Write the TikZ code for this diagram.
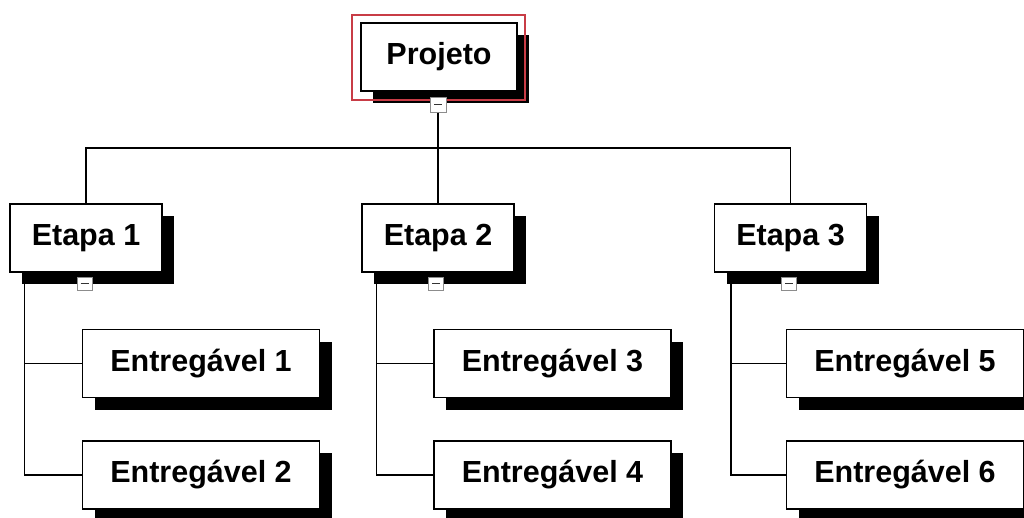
\documentclass[tikz,border=0pt]{standalone}
\usepackage{fontspec}
\setmainfont{Liberation Sans}
\usetikzlibrary{shadows}
\definecolor{framered}{RGB}{200,60,70}
\begin{document}
\begin{tikzpicture}[x=1pt,y=-1pt,
  wbsbox/.style={draw=black,line width=1.4pt,fill=white,inner sep=0pt,
    font=\fontsize{30.5}{36}\selectfont\bfseries,
    drop shadow={shadow xshift=12pt,shadow yshift=-12pt,fill=black,opacity=1}},
  topbox/.style={wbsbox,minimum width=156pt,minimum height=68pt},
  stagebox/.style={wbsbox,minimum width=152pt,minimum height=68pt},
  delbox/.style={wbsbox,minimum width=237pt,minimum height=68pt},
  collapse/.style={draw=black!45,fill=white,line width=1pt,inner sep=0pt,
    minimum width=15pt,minimum height=13pt,
    path picture={\draw[black!80,line width=1.7pt]
      ([xshift=-4pt]path picture bounding box.center) --
      ([xshift=4pt]path picture bounding box.center);}},
  conn/.style={draw=black,line width=1.4pt}]
\useasboundingbox (0,0) rectangle (1024,517);
\fill[white] (0,0) rectangle (1024,517);

% top
\node[topbox] (p) at (439,57) {Projeto};
\draw[framered,line width=1.1pt] (352,15) rectangle (525,100);
\node[collapse,minimum width=16pt,minimum height=15pt] (pc) at (438,104.5) {};

% stages
\node[stagebox] (e1) at (86,238) {Etapa 1};
\node[stagebox] (e2) at (438,238) {Etapa 2};
\node[stagebox] (e3) at (790.5,238) {Etapa 3};
\node[collapse] (c1) at (84.5,283.5) {};
\node[collapse] (c2) at (436,283.5) {};
\node[collapse] (c3) at (789,283.5) {};

% deliverables
\node[delbox] (d1) at (201,363.5) {Entregável 1};
\node[delbox] (d2) at (201,475) {Entregável 2};
\node[delbox] (d3) at (552.5,363.5) {Entregável 3};
\node[delbox] (d4) at (552.5,475) {Entregável 4};
\node[delbox] (d5) at (905,363.5) {Entregável 5};
\node[delbox] (d6) at (905,475) {Entregável 6};

% connectors
\coordinate (bus) at (0,148);
\draw[conn] (pc.south) -- (pc.south |- bus);
\draw[conn] (e2.north) -- (e2.north |- bus);
\draw[conn] (e1.north) -- (e1.north |- bus) -- (e3.north |- bus) -- (e3.north);

\coordinate (g1) at ([xshift=15pt]e1.south west);
\coordinate (g2) at ([xshift=15pt]e2.south west);
\coordinate (g3) at ([xshift=17pt]e3.south west);
\draw[conn] (g1) |- (d1.west);
\draw[conn] (g1) |- (d2.west);
\draw[conn] (g2) |- (d3.west);
\draw[conn] (g2) |- (d4.west);
\draw[conn] (g3) |- (d5.west);
\draw[conn] (g3) |- (d6.west);
\end{tikzpicture}
\end{document}
